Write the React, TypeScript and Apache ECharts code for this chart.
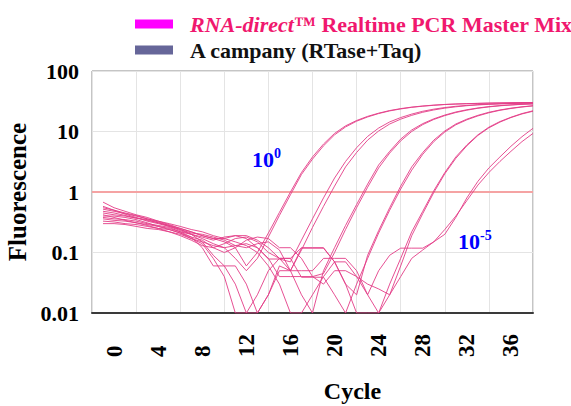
import React, { useEffect, useRef } from "react";
import * as echarts from "echarts";

// ---------- data ----------
const CYCLES = [-1, 0, 1, 2, 3, 4, 5, 6, 7, 8, 9, 10, 11, 12, 13, 14, 15, 16, 17, 18, 19, 20, 21, 22, 23, 24, 25, 26, 27, 28, 29, 30, 31, 32, 33, 34, 35, 36, 37, 38];
const X_TICK_LABELS = ["0", "4", "8", "12", "16", "20", "24", "28", "32", "36"];
const Y_TICK_LABELS = ["0.01", "0.1", "1", "10", "100"];
const THRESHOLD = 1;
const SERIES_MAIN = "RNA-direct™ Realtime PCR Master Mix";
const SERIES_OTHER = "A campany (RTase+Taq)";

// 10^0
const dilA1 = [0.68, 0.55, 0.48, 0.42, 0.38, 0.33, 0.29, 0.25, 0.22, 0.19,
  0.17, 0.15, 0.12, 0.06, 0.10, 0.21, 0.46, 1.0, 2.1, 3.8,
  6.2, 9.3, 12.4, 15.2, 17.8, 20.1, 22.2, 23.9, 25.3, 26.4,
  27.3, 28.0, 28.5, 28.9, 29.2, 29.5, 29.7, 29.9, 30.0, 30.1];
const dilA2 = [0.45, 0.42, 0.40, 0.37, 0.35, 0.31, 0.28, 0.24, 0.20, 0.17,
  0.14, 0.12, 0.08, 0.05, 0.08, 0.18, 0.41, 0.90, 1.95, 3.5,
  5.8, 8.8, 11.9, 14.8, 17.4, 19.8, 21.9, 23.6, 25.1, 26.2,
  27.1, 27.9, 28.4, 28.8, 29.1, 29.4, 29.6, 29.8, 29.9, 30.0];
// 10^-1
const dilB1 = [0.52, 0.48, 0.44, 0.40, 0.36, 0.33, 0.30, 0.27, 0.24, 0.22,
  0.19, 0.17, 0.19, 0.17, 0.12, 0.078, 0.078, 0.07, 0.16, 0.36,
  0.8, 1.7, 3.2, 5.4, 8.3, 11.4, 14.4, 17.0, 19.4, 21.6,
  23.4, 24.9, 26.1, 27.0, 27.8, 28.3, 28.8, 29.1, 29.4, 29.6];
const dilB2 = [0.38, 0.36, 0.35, 0.33, 0.30, 0.28, 0.26, 0.22, 0.20, 0.15,
  0.09, 0.06, 0.06, 0.03, 0.01, 0.02, 0.06, 0.05, 0.11, 0.26,
  0.58, 1.25, 2.6, 4.5, 7.2, 10.2, 13.3, 16.0, 18.5, 20.8,
  22.7, 24.3, 25.6, 26.7, 27.5, 28.1, 28.6, 29.0, 29.3, 29.5];
// 10^-2
const dilC1 = [0.55, 0.50, 0.43, 0.38, 0.33, 0.30, 0.27, 0.24, 0.21, 0.20,
  0.18, 0.16, 0.13, 0.12, 0.14, 0.15, 0.11, 0.05, 0.02, 0.01,
  0.05, 0.12, 0.28, 0.62, 1.35, 2.8, 4.7, 7.5, 10.6, 13.5,
  16.2, 18.7, 21.0, 22.9, 24.5, 25.8, 26.8, 27.6, 28.2, 28.7];
const dilC2 = [0.33, 0.32, 0.30, 0.29, 0.27, 0.25, 0.24, 0.21, 0.18, 0.16,
  0.12, 0.10, 0.12, 0.16, 0.18, 0.17, 0.12, 0.12, 0.08, 0.04,
  0.045, 0.10, 0.24, 0.55, 1.2, 2.5, 4.4, 7.0, 10.0, 13.0,
  15.8, 18.3, 20.6, 22.5, 24.2, 25.5, 26.6, 27.4, 28.1, 28.6];
// 10^-3
const dilD1 = [0.48, 0.45, 0.41, 0.37, 0.34, 0.31, 0.27, 0.23, 0.20, 0.18,
  0.16, 0.18, 0.19, 0.19, 0.16, 0.12, 0.08, 0.05, 0.118, 0.118,
  0.118, 0.07, 0.03, 0.02, 0.09, 0.23, 0.55, 1.25, 2.6, 4.5,
  7.2, 10.2, 13.3, 16.0, 18.5, 20.8, 22.7, 24.3, 25.6, 26.7];
const dilD2 = [0.40, 0.40, 0.38, 0.35, 0.31, 0.27, 0.24, 0.21, 0.17, 0.14,
  0.08, 0.04, 0.01, 0.01, 0.02, 0.05, 0.08, 0.08, 0.039, 0.039,
  0.039, 0.02, 0.01, 0.03, 0.08, 0.21, 0.50, 1.12, 2.3, 4.2,
  6.8, 9.8, 12.9, 15.6, 18.1, 20.4, 22.4, 24.0, 25.4, 26.5];
// 10^-4
const dilE1 = [0.42, 0.38, 0.34, 0.31, 0.29, 0.27, 0.25, 0.22, 0.18, 0.12,
  0.06, 0.06, 0.03, 0.01, 0.01, 0.02, 0.05, 0.05, 0.05, 0.05,
  0.08, 0.08, 0.08, 0.05, 0.02, 0.01, 0.03, 0.08, 0.22, 0.48,
  1.05, 2.1, 3.8, 6.0, 8.8, 11.8, 14.6, 17.2, 19.8, 22.0];
const dilE2 = [0.36, 0.34, 0.33, 0.31, 0.28, 0.25, 0.22, 0.19, 0.16, 0.13,
  0.12, 0.14, 0.17, 0.18, 0.15, 0.10, 0.08, 0.08, 0.12, 0.12,
  0.12, 0.07, 0.03, 0.01, 0.01, 0.01, 0.02, 0.06, 0.19, 0.44,
  0.98, 2.0, 3.6, 5.8, 8.6, 11.5, 14.3, 17.0, 19.5, 21.6];
// 10^-5
const dilF1 = [0.58, 0.50, 0.45, 0.41, 0.36, 0.32, 0.28, 0.25, 0.22, 0.19,
  0.17, 0.17, 0.15, 0.13, 0.10, 0.06, 0.03, 0.01, 0.01, 0.02,
  0.04, 0.07, 0.07, 0.04, 0.02, 0.05, 0.09, 0.118, 0.118, 0.118,
  0.15, 0.20, 0.38, 0.80, 1.5, 2.5, 3.8, 5.7, 8.2, 11.3];
const dilF2 = [0.30, 0.30, 0.29, 0.27, 0.25, 0.24, 0.22, 0.20, 0.17, 0.15,
  0.13, 0.12, 0.13, 0.14, 0.12, 0.08, 0.04, 0.04, 0.04, 0.04,
  0.03, 0.05, 0.05, 0.04, 0.03, 0.025, 0.02, 0.04, 0.08, 0.11,
  0.15, 0.24, 0.40, 0.72, 1.3, 2.1, 3.2, 4.7, 6.8, 9.3];

const CURVES = [dilA1, dilA2, dilB1, dilB2, dilC1, dilC2, dilD1, dilD2, dilE1, dilE2, dilF1, dilF2];
const OTHER_DATA: number[][] = [];

const FONT = "'Liberation Serif', 'Times New Roman', serif";

export default function App() {
  const ref = useRef<HTMLDivElement>(null);
  useEffect(() => {
    if (!ref.current) return;
    const chart = echarts.init(ref.current, null, { renderer: "svg" });

    const mainSeries = CURVES.map((c, idx) => ({
      type: "line",
      name: SERIES_MAIN,
      data: CYCLES.map((x, i) => [x, c[i]]),
      symbol: "none",
      showSymbol: false,
      xAxisIndex: 0,
      yAxisIndex: 0,
      color: "#e33d87",
      lineStyle: { width: 1, color: "#e33d87", opacity: 0.9 },
      z: 3,
      markLine: idx === 0 ? {
        silent: true,
        symbol: ["none", "none"],
        label: { show: false },
        lineStyle: { color: "#f5a3a3", width: 2, type: "solid" },
        data: [{ yAxis: THRESHOLD }],
        z: 2,
      } : undefined,
    }));

    const option: any = {
      animation: false,
      grid: {
        left: 92, top: 71, right: 38, bottom: 93,
        containLabel: false,
        outerBoundsMode: "none",
        show: true, borderColor: "#8a8a8a", borderWidth: 1, backgroundColor: "#fff",
      },
      legend: {
        orient: "vertical",
        left: 135,
        top: 13,
        padding: 0,
        itemGap: 4,
        itemWidth: 38,
        itemHeight: 9,
        icon: "rect",
        selectedMode: false,
        textStyle: {
          fontFamily: FONT, fontSize: 22, fontWeight: "bold", color: "#111",
          padding: [0, 0, 0, 12],
          rich: {
            i: { fontFamily: FONT, fontSize: 22, fontWeight: "bold", fontStyle: "italic", color: "#f0186e" },
            b: { fontFamily: FONT, fontSize: 22, fontWeight: "bold", color: "#f0186e" },
          },
        },
        formatter: (name: string) =>
          name === SERIES_MAIN ? "{i|RNA-direct}{b|™ Realtime PCR Master Mix}" : name,
        data: [
          { name: SERIES_MAIN, itemStyle: { color: "#ff00ff", borderWidth: 0 } },
          { name: SERIES_OTHER, itemStyle: { color: "#666699", borderWidth: 0 } },
        ],
      },
      xAxis: [
        {
          type: "value",
          min: -2,
          max: 38,
          interval: 2,
          position: "bottom",
          name: "Cycle",
          nameLocation: "middle",
          nameGap: 66,
          nameTextStyle: { fontFamily: FONT, fontSize: 24, fontWeight: "bold", color: "#000", padding: [0, 0, 0, 80] },
          axisLine: { show: true, onZero: false, lineStyle: { color: "#3a3a3a", width: 2 } },
          axisTick: { show: false },
          splitLine: { show: false },
          axisLabel: {
            rotate: 90,
            align: "left",
            margin: 44,
            fontFamily: FONT, fontSize: 23, fontWeight: "bold", color: "#000",
            formatter: (v: number) => {
              const s = String(Math.round(v));
              return X_TICK_LABELS.indexOf(s) >= 0 && Math.abs(v - Math.round(v)) < 1e-6 ? s : "";
            },
          },
        },
        {
          type: "value",
          min: -2,
          max: 38,
          interval: 4,
          position: "top",
          axisLine: { show: false },
          axisTick: { show: false },
          axisLabel: { show: false },
          splitLine: { show: true, lineStyle: { color: "#e4e4e4", width: 1 } },
        },
      ],
      yAxis: {
        type: "log",
        logBase: 10,
        min: 0.01,
        max: 100,
        name: "Fluorescence",
        nameLocation: "middle",
        nameGap: 57,
        nameTextStyle: { fontFamily: FONT, fontSize: 25, fontWeight: "bold", color: "#000" },
        axisLine: { show: false },
        axisTick: { show: false },
        splitLine: { show: true, lineStyle: { color: "#e4e4e4", width: 1 } },
        axisLabel: {
          margin: 13,
          fontFamily: FONT, fontSize: 22, fontWeight: "bold", color: "#000",
          formatter: (v: number) => {
            const found = Y_TICK_LABELS.find((l) => Math.abs(parseFloat(l) - v) / v < 1e-6);
            return found ?? "";
          },
        },
      },
      graphic: [
        {
          type: "text",
          left: 252,
          top: 146,
          z: 10,
          style: {
            text: "{n|10}{s|0}",
            rich: {
              n: { fontFamily: FONT, fontSize: 22, fontWeight: "bold", fill: "#0000ff", verticalAlign: "bottom", lineHeight: 24 },
              s: { fontFamily: FONT, fontSize: 14, fontWeight: "bold", fill: "#0000ff", verticalAlign: "top", lineHeight: 14 },
            },
          },
        },
        {
          type: "text",
          left: 458,
          top: 228,
          z: 10,
          style: {
            text: "{n|10}{s|-5}",
            rich: {
              n: { fontFamily: FONT, fontSize: 22, fontWeight: "bold", fill: "#0000ff", verticalAlign: "bottom", lineHeight: 24 },
              s: { fontFamily: FONT, fontSize: 14, fontWeight: "bold", fill: "#0000ff", verticalAlign: "top", lineHeight: 14 },
            },
          },
        },
      ],
      series: [
        ...mainSeries,
        {
          type: "line",
          name: SERIES_OTHER,
          data: OTHER_DATA,
          color: "#666699",
          symbol: "none",
          lineStyle: { width: 1, color: "#666699" },
        },
      ],
    };

    chart.setOption(option);
    return () => chart.dispose();
  }, []);

  return (
    <div
      ref={ref}
      style={{ position: "fixed", left: 0, top: 0, width: 571, height: 406, background: "#fff" }}
    />
  );
}
